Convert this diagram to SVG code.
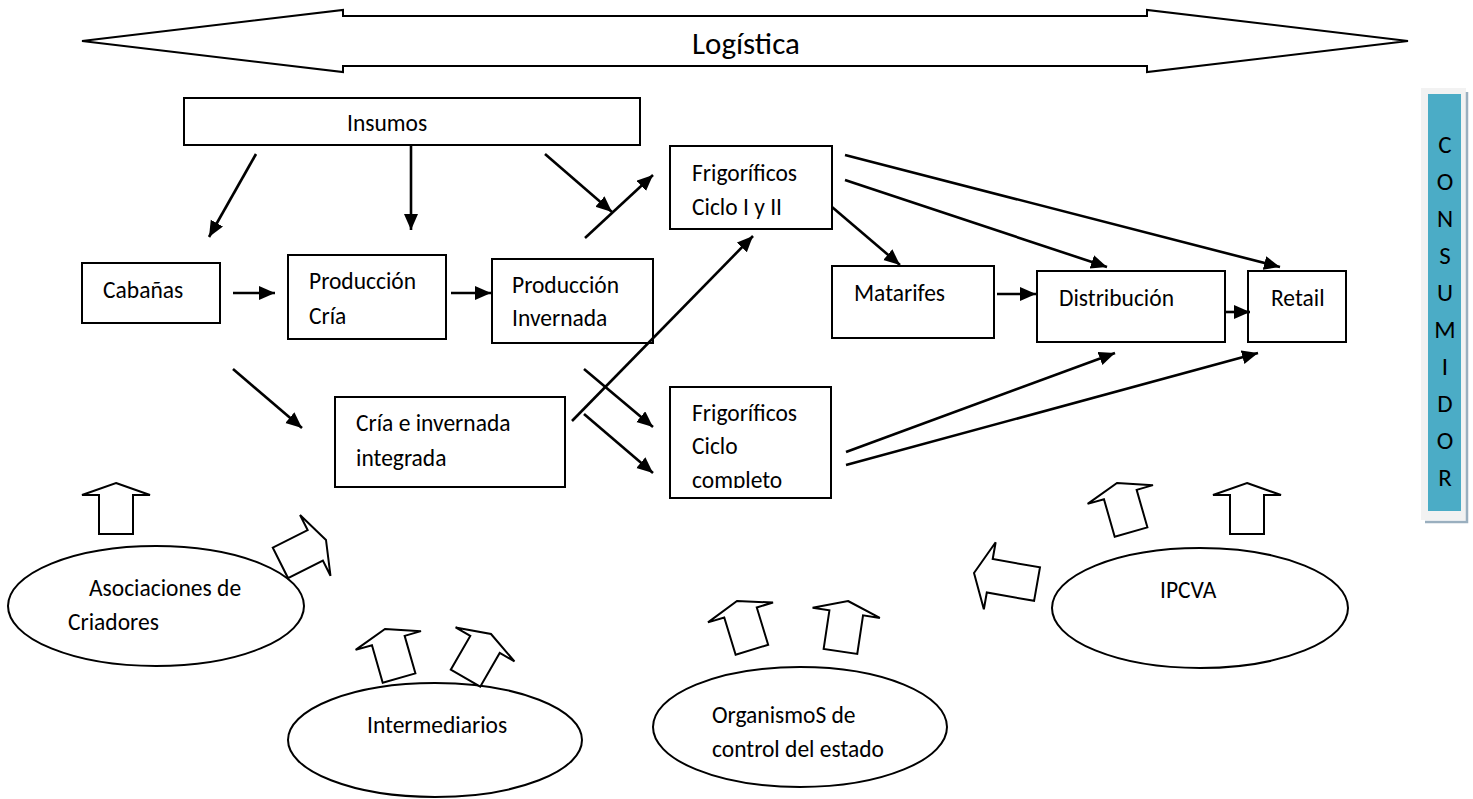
<svg xmlns="http://www.w3.org/2000/svg" xmlns:xlink="http://www.w3.org/1999/xlink" width="1473" height="799" viewBox="0 0 1473 799">
<style>
.box{fill:#fff;stroke:#000;stroke-width:2}
.ell{fill:#fff;stroke:#000;stroke-width:2}
.blk{fill:#fff;stroke:#000;stroke-width:2;stroke-linejoin:miter}
.con{stroke:#000;stroke-width:2.6;fill:none}
text{font-family:Carlito,Calibri,Lato,"Open Sans",sans-serif;font-size:23.5px;fill:#000}
.big{font-size:31px}
.v{text-anchor:middle;font-size:25px}
</style>
<defs>
<marker id="ah" markerUnits="userSpaceOnUse" markerWidth="18" markerHeight="16" refX="16" refY="7" orient="auto">
<path d="M0,0 L16,7 L0,14 Z" fill="#000"/>
</marker>
<path id="blkUp" d="M0,0 L34,12 L17,12 L17,51 L-17,51 L-17,12 L-34,12 Z"/>
<path id="blkLong" d="M0,0 L34,16 L17,16 L17,64 L-17,64 L-17,16 L-34,16 Z"/>
<clipPath id="clipFC"><rect x="670" y="387" width="161" height="101"/></clipPath>
</defs>

<g id="logistica">
<polygon class="blk" points="82,41 343,10 343,16 1147,16 1147,10 1408,41 1147,72 1147,66 343,66 343,72"/>
<text class="big" x="692" y="54">Logística</text>
</g>

<g id="consumidor">
<rect x="1421" y="88" width="45" height="432" fill="#F2F2F2"/>
<polyline points="1467,92 1467,522 1425,522" fill="none" stroke="#9AAFBF" stroke-width="2.5"/>
<rect x="1428" y="94" width="33" height="417" fill="#4BACC6"/>
<text class="v" x="1445" y="153">C</text>
<text class="v" x="1445" y="190">O</text>
<text class="v" x="1445" y="227">N</text>
<text class="v" x="1445" y="264">S</text>
<text class="v" x="1445" y="301">U</text>
<text class="v" x="1445" y="338">M</text>
<text class="v" x="1445" y="375">I</text>
<text class="v" x="1445" y="412">D</text>
<text class="v" x="1445" y="449">O</text>
<text class="v" x="1445" y="486">R</text>
</g>

<g id="insumos">
<rect class="box" x="184" y="98" width="456" height="47"/>
<text x="347" y="131">Insumos</text>
</g>
<g id="cabanas">
<rect class="box" x="82" y="263" width="138" height="60"/>
<text x="103" y="298">Cabañas</text>
</g>
<g id="produccion-cria">
<rect class="box" x="288" y="255" width="158" height="84"/>
<text x="309" y="289">Producción</text>
<text x="309" y="324">Cría</text>
</g>
<g id="produccion-invernada">
<rect class="box" x="492" y="259" width="161" height="84"/>
<text x="512" y="293">Producción</text>
<text x="512" y="326">Invernada</text>
</g>
<g id="cria-invernada-integrada">
<rect class="box" x="335" y="397" width="230" height="90"/>
<text x="356" y="431">Cría e invernada</text>
<text x="356" y="466">integrada</text>
</g>
<g id="frigorificos-ciclo-1-2">
<rect class="box" x="670" y="146" width="162" height="83"/>
<text x="692" y="181">Frigoríficos</text>
<text x="692" y="215">Ciclo I y II</text>
</g>
<g id="frigorificos-ciclo-completo">
<rect class="box" x="670" y="387" width="161" height="111"/>
<g clip-path="url(#clipFC)">
<text x="692" y="421">Frigoríficos</text>
<text x="692" y="454">Ciclo</text>
<text x="692" y="488">completo</text>
</g>
</g>
<g id="matarifes">
<rect class="box" x="832" y="266" width="162" height="72"/>
<text x="854" y="301">Matarifes</text>
</g>
<g id="distribucion">
<rect class="box" x="1037" y="271" width="188" height="71"/>
<text x="1059" y="306">Distribución</text>
</g>
<g id="retail">
<rect class="box" x="1248" y="271" width="98" height="71"/>
<text x="1271" y="306">Retail</text>
</g>

<g id="asociaciones">
<ellipse class="ell" cx="156" cy="606" rx="148" ry="60"/>
<text x="89" y="596">Asociaciones de</text>
<text x="68" y="630">Criadores</text>
<use xlink:href="#blkUp" class="blk" transform="translate(116,483)"/>
<use xlink:href="#blkUp" class="blk" transform="translate(326,540) rotate(63.4)"/>
</g>
<g id="intermediarios">
<ellipse class="ell" cx="435" cy="740" rx="147" ry="57"/>
<text x="367" y="733">Intermediarios</text>
<use xlink:href="#blkUp" class="blk" transform="translate(385,629) rotate(-16)"/>
<use xlink:href="#blkUp" class="blk" transform="translate(491,634) rotate(30)"/>
</g>
<g id="organismos">
<ellipse class="ell" cx="800" cy="727" rx="147" ry="60"/>
<text x="712" y="723">OrganismoS de</text>
<text x="712" y="757">control del estado</text>
<use xlink:href="#blkUp" class="blk" transform="translate(737,601) rotate(-17)"/>
<use xlink:href="#blkUp" class="blk" transform="translate(848,601) rotate(8.5)"/>
</g>
<g id="ipcva">
<ellipse class="ell" cx="1200" cy="608" rx="148" ry="60"/>
<text x="1160" y="598">IPCVA</text>
<use xlink:href="#blkUp" class="blk" transform="translate(1117,483) rotate(-16)"/>
<use xlink:href="#blkUp" class="blk" transform="translate(1247,483)"/>
<use xlink:href="#blkLong" class="blk" transform="translate(974,573) rotate(-80)"/>
</g>

<g id="connectors" class="con" marker-end="url(#ah)">
<line x1="256" y1="154" x2="209" y2="237"/>
<line x1="411" y1="146" x2="411" y2="230"/>
<line x1="545" y1="154" x2="612" y2="212"/>
<line x1="585" y1="238" x2="653" y2="175"/>
<line x1="233" y1="293" x2="275" y2="293"/>
<line x1="451" y1="293" x2="491" y2="293"/>
<line x1="233" y1="369" x2="302" y2="428"/>
<line x1="572" y1="421" x2="753" y2="236"/>
<line x1="584" y1="369" x2="653" y2="427"/>
<line x1="584" y1="414" x2="653" y2="473"/>
<line x1="832" y1="207" x2="900" y2="265"/>
<line x1="845" y1="180" x2="1107" y2="267"/>
<line x1="845" y1="155" x2="1280" y2="267"/>
<line x1="997" y1="294" x2="1036" y2="294"/>
<line x1="1225" y1="312" x2="1250" y2="312"/>
<line x1="846" y1="452" x2="1115" y2="353"/>
<line x1="846" y1="465" x2="1258" y2="353"/>
</g>
</svg>
